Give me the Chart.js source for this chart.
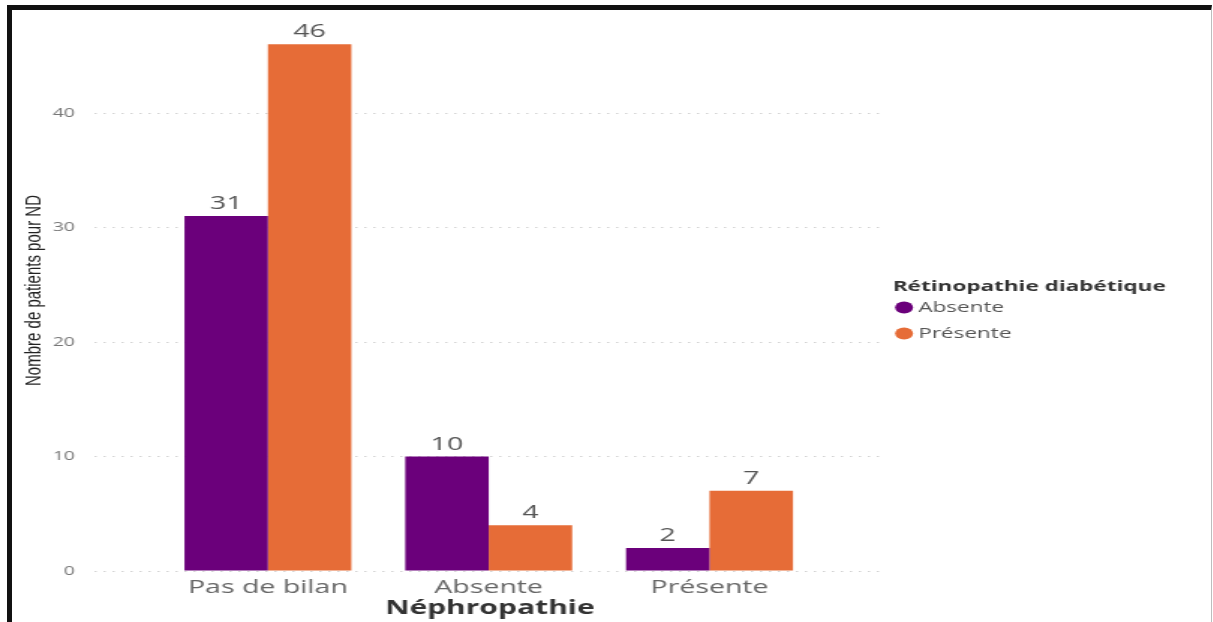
<!DOCTYPE html>
<html lang="fr">
<head>
<meta charset="utf-8">
<title>Néphropathie et rétinopathie diabétique</title>
<script src="https://cdn.jsdelivr.net/npm/chart.js@4"></script>
<style>
  html, body { margin: 0; padding: 0; background: #fff; overflow: hidden; }
  body { width: 1213px; height: 622px; position: relative; }
  #frame {
    position: absolute; left: 7px; top: 5px;
    width: 1199px; height: 700px;
    border-left: 5px solid #111; border-top: 5px solid #111; border-right: 1px solid #bdbdbd;
    background: #fff;
  }
  /* the report visual is rendered at a narrow size and widened horizontally */
  #chart { position: absolute; left: 0; top: 0; transform-origin: 0 0; transform: scaleX(1.49875); }
</style>
</head>
<body>
<div id="frame"><canvas id="chart" width="800" height="613"></canvas></div>
<script>
// Néphropathie categories (x axis)
const categories = ['Pas de bilan', 'Absente', 'Présente'];
// Rétinopathie diabétique series
const seriesNames = ['Absente', 'Présente'];
const absenteValues = [31, 10, 2];
const presenteValues = [46, 4, 7];
// y axis ticks
const yTicks = [0, 10, 20, 30, 40];
const legendTitleText = 'Rétinopathie diabétique';

const PURPLE = '#6B007B';
const ORANGE = '#E66C37';
const SANS = 'Open Sans';

// legend geometry: width of the legend box, used to leave the plot area its room
const LEGEND_FONT_SIZE = 15;
const LEGEND_BOX = 4;
const LEGEND_PAD = 11;
function legendBoxWidth() {
  const c = document.createElement('canvas').getContext('2d');
  c.font = LEGEND_FONT_SIZE + 'px ' + SANS;
  const textW = Math.max(...seriesNames.map(s => c.measureText(s).width));
  return LEGEND_PAD + LEGEND_BOX + LEGEND_FONT_SIZE / 2 + textW + 10;
}
const PLOT_RIGHT = 582.2;
const padRight = 800 - PLOT_RIGHT - legendBoxWidth();

const toPoints = vals => vals.map((v, i) => ({ x: i, y: v }));

// value labels above each bar
const valueLabels = {
  id: 'valueLabels',
  afterDatasetsDraw(chart) {
    const { ctx } = chart;
    ctx.save();
    ctx.font = '19px ' + SANS;
    ctx.fillStyle = '#555';
    ctx.textAlign = 'center';
    ctx.textBaseline = 'alphabetic';
    chart.data.datasets.forEach((ds, i) => {
      chart.getDatasetMeta(i).data.forEach((bar, j) => {
        ctx.fillText(String(ds.data[j].y), bar.x, bar.y - 7);
      });
    });
    ctx.restore();
  }
};

// legend heading, drawn above the first legend entry (outside the legend's clip box)
const legendHeading = {
  id: 'legendHeading',
  afterDraw(chart) {
    const lg = chart.legend;
    if (!lg || !lg.legendHitBoxes || !lg.legendHitBoxes.length) return;
    const first = lg.legendHitBoxes[0];
    const { ctx } = chart;
    ctx.save();
    ctx.font = 'bold 15px ' + SANS;
    ctx.fillStyle = '#333';
    ctx.textAlign = 'left';
    ctx.textBaseline = 'middle';
    ctx.fillText(legendTitleText, lg.left + 5.5, first.top + first.height / 2 - 21);
    ctx.restore();
  }
};

new Chart(document.getElementById('chart'), {
  type: 'bar',
  data: {
    datasets: [
      { label: seriesNames[0], data: toPoints(absenteValues), backgroundColor: PURPLE, borderWidth: 0 },
      { label: seriesNames[1], data: toPoints(presenteValues), backgroundColor: ORANGE, borderWidth: 0 }
    ]
  },
  options: {
    responsive: false,
    animation: false,
    devicePixelRatio: 1,
    categoryPercentage: 0.756,
    barPercentage: 1,
    layout: { padding: { left: 0, top: 0, bottom: 0, right: padRight } },
    plugins: {
      tooltip: { enabled: false },
      legend: {
        position: 'right',
        align: 'center',
        // empty title only reserves a little room above the entries
        title: { display: true, text: '', font: { size: 8, lineHeight: 1 }, padding: 0 },
        labels: {
          usePointStyle: true,
          pointStyle: 'circle',
          boxWidth: LEGEND_BOX,
          boxHeight: 8.5,
          padding: LEGEND_PAD,
          color: '#555',
          font: { family: SANS, size: LEGEND_FONT_SIZE }
        }
      }
    },
    scales: {
      x: {
        type: 'linear',
        min: -0.783,
        max: 2.793,
        bounds: 'data',
        offset: false,
        grid: { display: false, drawTicks: false },
        border: { display: false },
        afterBuildTicks: s => { s.ticks = categories.map((c, i) => ({ value: i })); },
        afterFit: s => { s.height = 52; s.paddingLeft = 0; s.paddingRight = 0; },
        ticks: {
          autoSkip: false,
          maxRotation: 0,
          padding: 5,
          color: '#666',
          font: { family: SANS, size: 19 },
          callback: v => categories[v] ?? ''
        },
        title: {
          display: true,
          text: 'Néphropathie',
          color: '#333',
          font: { family: SANS, size: 20, weight: 'bold' },
          padding: { top: 0, bottom: 3 }
        }
      },
      y: {
        min: 0,
        max: 49,
        bounds: 'data',
        afterFit: s => { s.width = 55.4; s.paddingTop = 0; s.paddingBottom = 0; },
        afterBuildTicks: s => { s.ticks = yTicks.map(v => ({ value: v })); },
        grid: { color: '#d2d2d2', lineWidth: 1, drawTicks: false },
        border: { display: false, dash: [1.5, 4.5] },
        ticks: {
          padding: 13.4,
          color: '#777',
          font: { family: SANS, size: 13 }
        },
        title: {
          display: true,
          text: 'Nombre de patients pour ND',
          color: '#222',
          font: { family: 'Liberation Sans', size: 15 },
          padding: { top: 5.7, bottom: 0 }
        }
      }
    }
  },
  plugins: [valueLabels, legendHeading]
});
</script>
</body>
</html>
